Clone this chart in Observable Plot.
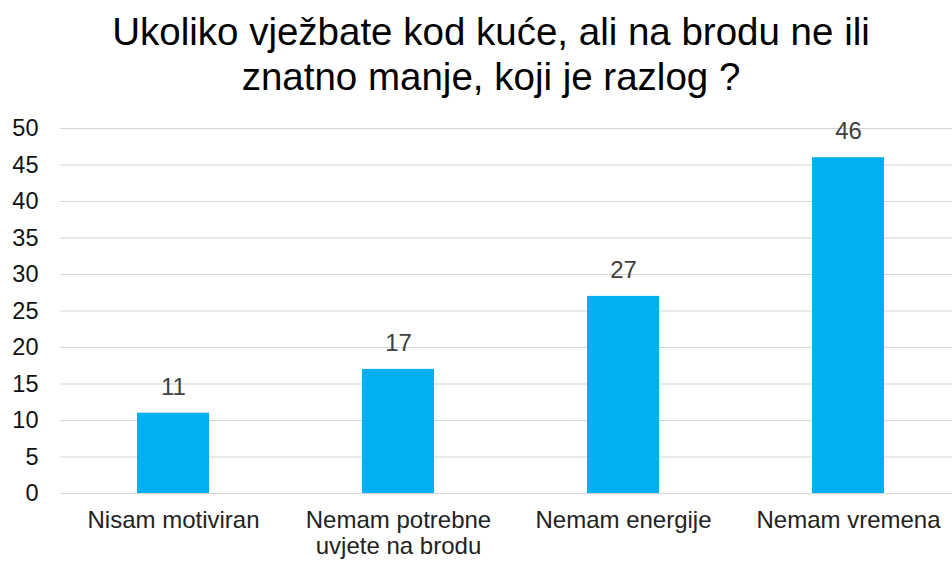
<!DOCTYPE html>
<html>
<head>
<meta charset="utf-8">
<script src="https://cdn.jsdelivr.net/npm/d3@7"></script>
<script src="https://cdn.jsdelivr.net/npm/@observablehq/plot@0.6"></script>
<style>
  body { margin: 0; background: #fff; font-family: "Liberation Sans", Arial, sans-serif; }
  #title { height: 104px; box-sizing: border-box; padding-top: 9px; text-align: center; font-size: 38.5px; line-height: 45px; color: #000; margin-left: 30px; width: 922px; white-space: nowrap; }
</style>
</head>
<body>
<div id="title">Ukoliko vježbate kod kuće, ali na brodu ne ili<br>znatno manje, koji je razlog ?</div>
<div id="chart"></div>
<script>
const categories = ["Nisam motiviran", "Nemam potrebne\nuvjete na brodu", "Nemam energije", "Nemam vremena"];
const values = [11, 17, 27, 46];
const yTicks = [0, 5, 10, 15, 20, 25, 30, 35, 40, 45, 50];

const data = categories.map((c, i) => ({category: c, value: values[i]}));

const chart = Plot.plot({
  width: 952,
  height: 461,
  marginLeft: 60,
  marginRight: 0,
  marginTop: 24,
  marginBottom: 72,
  style: {fontFamily: "'Liberation Sans', Arial, sans-serif", background: "white"},
  x: {domain: categories, range: [60, 960], paddingInner: 0.68, paddingOuter: 0.34, label: null},
  y: {domain: [0, 50], label: null},
  marks: [
    Plot.ruleY(yTicks, {stroke: "#d4d4d4", strokeWidth: 1.2}),
    Plot.barY(data, {x: "category", y: "value", fill: "#00B0F0"}),
    Plot.text(data, {x: "category", y: "value", text: d => String(d.value), dy: -26, fontSize: 24, fill: "#404040"}),
    Plot.axisY({ticks: yTicks, tickSize: 0, tickPadding: 22, fontSize: 23.5, color: "#111"}),
    Plot.axisX({tickSize: 0, tickPadding: 16, fontSize: 24, color: "#222", lineHeight: 1.08})
  ]
});
document.getElementById("chart").appendChild(chart);
</script>
</body>
</html>
